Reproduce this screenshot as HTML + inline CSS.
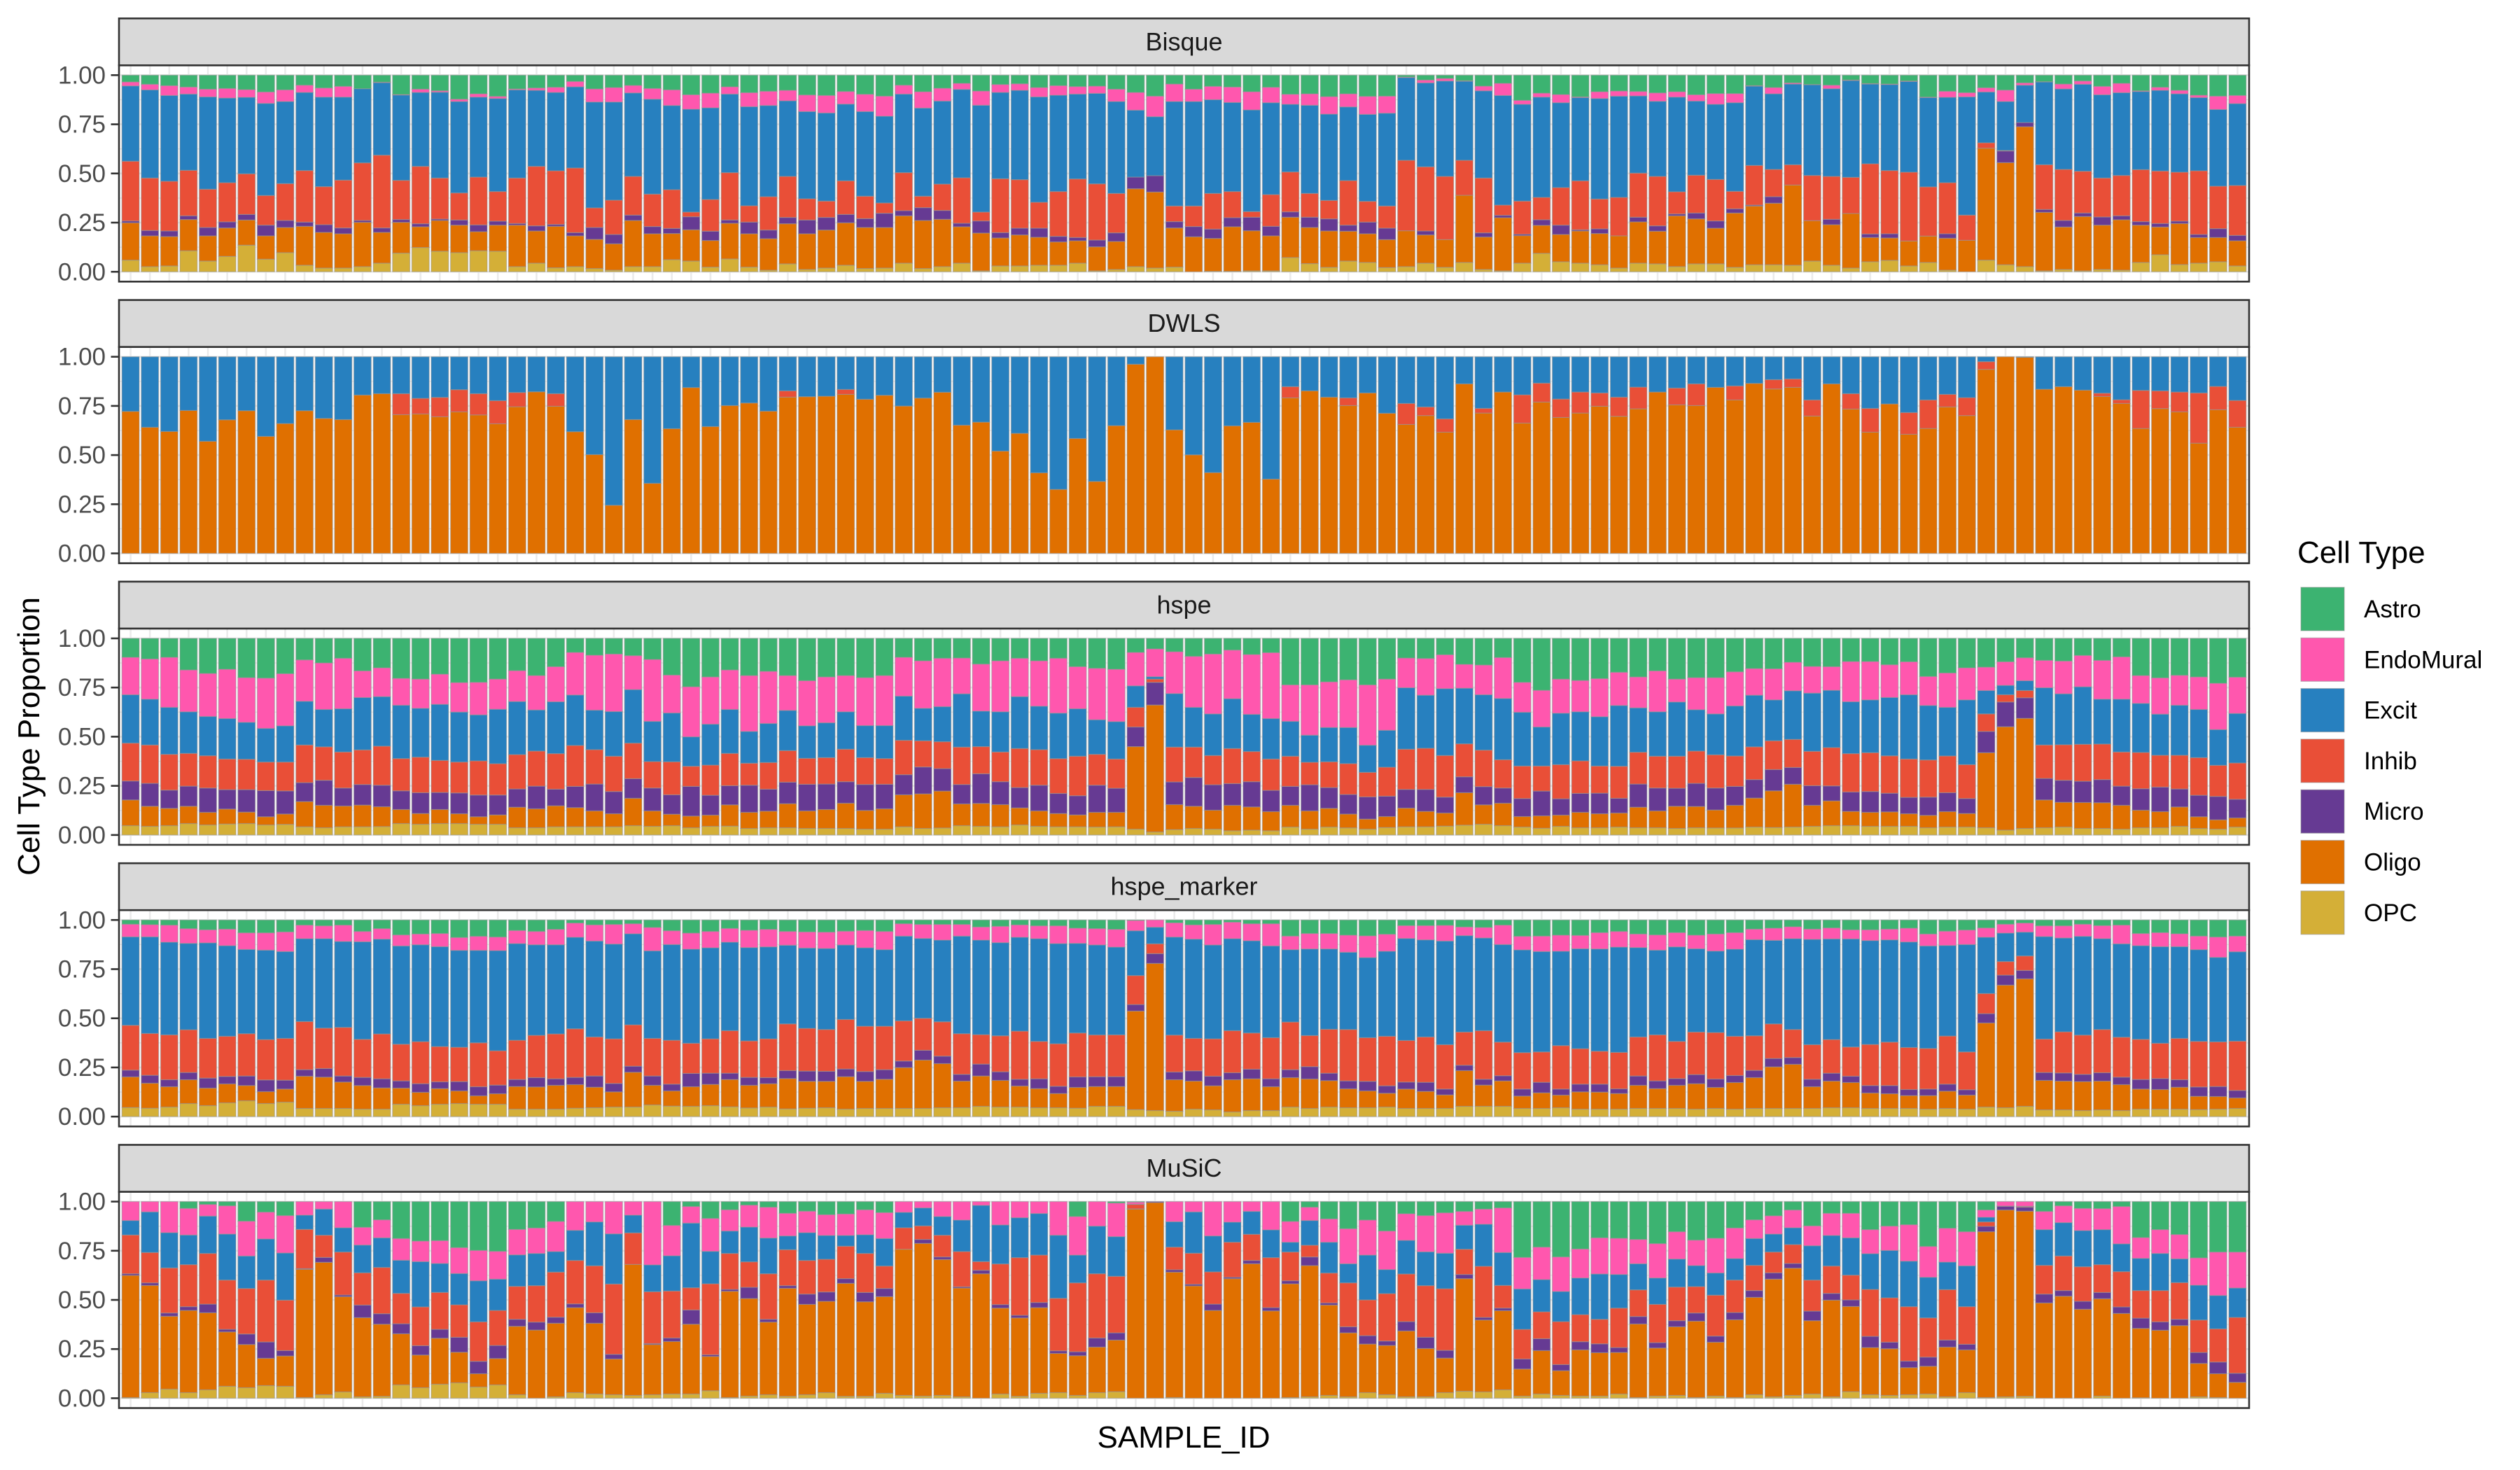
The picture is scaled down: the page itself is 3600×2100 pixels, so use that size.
<!DOCTYPE html>
<html>
<head>
<meta charset="utf-8">
<style>
  html,body{margin:0;padding:0;background:#fff;}
  svg{display:block;font-family:"Liberation Sans",Arial,sans-serif;}
</style>
</head>
<body>
<svg id="chart" width="3600" height="2100" viewBox="0 0 3600 2100" xmlns="http://www.w3.org/2000/svg">
  <rect x="0" y="0" width="3600" height="2100" fill="#ffffff"/>
  <text x="1691" y="2068" text-anchor="middle" font-size="44" fill="#000">SAMPLE_ID</text>
  <text x="0" y="0" transform="translate(56,1052) rotate(-90)" text-anchor="middle" font-size="44" fill="#000">Cell Type Proportion</text>
  <g id="panels"></g>
  <g id="legend">
    <text x="3282" y="804" font-size="44" fill="#000">Cell Type</text>
  </g>
</svg>
<script>
const categories = ["Astro","EndoMural","Excit","Inhib","Micro","Oligo","OPC"];
const colors = ["#3CB371","#FF57AE","#2780BF","#E94F37","#663A93","#E07000","#D4AF37"];
const methods = ["Bisque","DWLS","hspe","hspe_marker","MuSiC"];
const yTicks = [0,0.25,0.5,0.75,1];
const yTickLabels = ["0.00","0.25","0.50","0.75","1.00"];

// rows: [Astro, EndoMural, Excit, Inhib, Micro, Oligo, OPC] (relative amounts, normalised per bar)
const bisque = [
[29,17,323,256,8,160,50],[39,24,378,225,23,132,22],[45,42,368,213,24,126,25],[51,30,327,195,16,134,90],[60,33,396,164,36,108,46],
[57,41,363,168,26,122,66],[62,33,328,174,24,108,114],[72,49,395,127,46,100,54],[63,50,352,158,30,108,82],[43,31,335,221,18,167,28],
[55,39,384,163,33,153,16],[48,46,356,205,25,147,16],[58,0,318,247,8,190,22],[30,2,311,312,19,132,37],[83,2,366,168,12,132,80],
[60,14,317,246,13,89,104],[67,6,368,176,6,132,88],[103,10,392,116,22,118,82],[80,14,343,205,29,82,90],[91,9,399,127,17,112,88],
[59,4,378,195,7,178,22],[55,10,326,255,22,138,37],[52,22,336,230,8,178,17],[27,23,348,277,14,132,22],[59,56,454,84,51,125,14],
[53,62,421,147,40,113,7],[44,32,358,166,23,198,22],[57,46,407,139,31,141,22],[63,67,361,166,22,112,52],[84,62,441,20,56,134,46],
[77,63,393,136,40,114,20],[50,31,337,203,14,153,55],[75,60,425,70,50,143,20],[69,61,391,143,37,135,7],[65,45,324,176,27,172,34],
[85,71,374,91,59,153,10],[87,75,378,70,54,163,16],[70,54,329,144,36,182,28],[82,74,363,96,38,176,14],[90,86,372,44,61,174,16],
[43,38,337,163,22,203,37],[71,70,378,49,55,206,14],[56,55,356,113,38,203,22],[35,26,379,195,15,156,37],[68,61,458,38,52,162,4],
[40,34,370,231,23,120,25],[37,28,383,208,29,133,25],[53,40,452,111,39,120,28],[45,41,413,192,24,100,28],[49,32,364,251,14,96,37],
[47,31,388,241,29,103,4],[60,53,394,169,37,120,10],[74,76,287,0,50,334,22],[90,88,253,0,70,326,16],[38,75,448,67,27,168,20],
[60,53,448,88,44,150,0],[48,57,402,153,40,141,2],[51,66,382,112,39,191,2],[71,78,436,24,58,172,4],[52,66,394,136,41,150,4],
[82,43,290,171,23,173,61],[80,49,378,102,44,155,35],[92,75,370,79,52,156,19],[80,56,316,191,26,128,46],[91,77,373,89,50,123,40],
[90,73,398,95,49,120,18],[8,2,355,302,0,154,22],[21,12,360,275,17,121,37],[14,11,409,271,0,119,19],[24,2,339,150,0,288,40],
[47,20,374,235,18,139,10],[35,52,470,44,10,228,4],[108,17,415,142,6,118,37],[77,17,430,96,24,120,79],[83,35,364,161,40,117,43],
[93,3,357,210,5,138,37],[71,29,431,128,20,134,30],[68,22,434,165,0,138,16],[70,19,331,189,20,177,37],[76,36,322,212,23,140,34],
[71,23,406,95,8,218,22],[84,27,318,162,25,193,34],[79,46,322,178,31,153,34],[79,39,380,75,18,233,19],[45,2,340,170,4,252,30],
[53,27,324,117,28,264,30],[33,5,346,87,0,344,28],[40,1,389,194,0,173,46],[43,15,376,184,23,174,28],[21,2,415,155,0,234,16],
[36,2,342,301,15,104,43],[38,2,369,271,18,96,49],[25,2,389,295,0,107,25],[94,2,383,211,0,113,40],[69,26,366,219,19,137,7],
[75,18,507,108,0,135,0],[54,18,218,23,0,480,50],[64,49,210,2,50,438,30],[33,10,160,0,18,600,22],[28,1,355,192,12,251,4],
[38,21,345,219,28,182,10],[25,14,373,179,15,233,4],[48,36,357,167,35,190,10],[35,40,355,173,17,216,7],[67,3,335,223,15,160,40],
[52,13,346,225,15,119,73],[65,15,336,210,10,176,31],[86,10,314,273,13,110,37],[90,57,329,182,38,104,43],[87,35,351,214,23,108,25]
];

// DWLS rows: [Excit, Inhib, Oligo]
const dwls = [
[234,0,608],[302,0,540],[320,0,522],[230,0,612],[362,0,480],[270,0,572],[231,0,611],[341,0,501],[286,0,556],[231,0,611],
[264,0,578],[269,0,573],[164,0,678],[158,0,684],[158,90,594],[178,67,597],[174,83,585],[141,95,606],[158,91,593],[188,99,555],
[153,61,628],[150,0,692],[158,54,630],[321,0,521],[419,0,423],[636,0,206],[269,0,573],[542,0,300],[308,0,534],[132,0,710],
[299,0,543],[209,0,633],[198,0,644],[233,0,609],[146,27,669],[171,0,671],[169,0,673],[140,21,681],[182,0,660],[165,0,677],
[211,0,631],[177,0,665],[152,0,690],[293,0,549],[280,0,562],[404,0,438],[328,0,514],[497,0,345],[568,0,274],[350,0,492],
[534,0,308],[295,0,547],[32,0,810],[0,0,842],[313,0,529],[420,0,422],[496,0,346],[296,0,546],[281,0,561],[524,0,318],
[128,48,666],[146,0,696],[173,0,669],[176,33,633],[155,0,687],[242,0,600],[200,90,552],[215,37,590],[266,57,519],[116,0,726],
[221,20,601],[151,0,691],[163,121,558],[113,81,648],[181,79,582],[151,90,601],[155,57,630],[173,82,587],[130,93,619],[151,0,691],
[134,72,636],[116,93,633],[131,0,711],[125,60,657],[114,0,728],[98,40,704],[95,36,711],[185,69,588],[116,0,726],[158,66,618],
[221,102,519],[202,0,640],[239,93,510],[185,122,535],[161,54,627],[175,77,590],[21,33,788],[0,0,842],[2,0,840],[139,0,703],
[128,0,714],[143,0,699],[156,14,672],[184,16,642],[144,163,535],[146,76,620],[151,85,606],[155,215,472],[127,100,615],[187,115,540]
];

const hspe = [
[81,160,207,162,81,110,40],[88,172,196,164,98,86,37],[81,214,201,153,78,74,40],[135,179,178,140,86,74,49],[150,184,168,138,104,54,43],
[132,211,173,131,83,64,47],[168,191,158,130,96,49,49],[170,215,144,122,112,35,43],[153,226,157,125,100,45,46],[92,177,187,161,81,108,35],
[105,199,160,143,107,96,31],[85,216,185,154,77,89,35],[139,114,224,148,88,93,35],[126,123,212,167,92,85,36],[171,115,228,138,80,60,49],
[174,125,209,152,89,46,46],[153,129,240,137,73,60,49],[189,126,214,132,89,42,49],[188,139,197,146,93,32,46],[174,129,233,134,85,40,46],
[138,132,227,147,78,88,31],[159,147,176,150,97,81,31],[121,150,222,152,71,90,35],[60,182,216,175,91,82,35],[72,235,169,147,115,68,35],
[67,246,191,151,95,56,35],[74,145,229,152,84,117,40],[90,265,172,113,98,66,37],[157,162,209,141,83,49,40],[207,214,126,86,127,50,31],
[165,202,175,129,85,48,37],[135,169,188,138,82,91,38],[159,239,136,94,116,69,28],[141,223,167,114,94,71,31],[159,149,172,135,92,103,31],
[181,193,139,111,114,75,28],[165,196,149,113,109,81,28],[159,155,160,139,92,108,28],[168,205,137,115,111,80,25],[159,214,141,110,105,87,25],
[81,166,189,147,86,137,35],[96,203,139,112,115,148,28],[85,207,150,115,96,158,30],[84,153,228,160,83,93,40],[110,201,152,116,127,98,37],
[96,218,172,127,98,95,35],[85,164,222,167,87,73,43],[96,194,186,152,110,66,37],[85,235,195,149,86,57,35],[121,180,203,169,82,51,35],
[128,220,148,132,116,63,34],[132,224,160,125,103,62,35],[60,143,92,84,84,353,25],[45,119,10,14,97,543,13],[57,179,229,149,97,107,23],
[77,218,170,130,123,95,28],[67,256,178,125,109,81,25],[50,208,213,150,93,109,18],[69,256,159,129,108,99,21],[61,282,173,134,91,82,18],
[199,156,149,129,81,93,34],[199,215,116,96,112,78,25],[186,195,147,110,89,80,34],[180,207,157,134,85,60,31],[199,258,116,105,95,43,25],
[174,219,158,124,87,47,32],[84,127,263,172,80,80,35],[86,157,227,176,94,66,35],[70,145,286,178,68,56,38],[111,102,238,141,68,139,42],
[114,127,237,156,78,83,46],[82,175,262,121,65,96,40],[188,128,230,139,77,45,34],[222,157,167,107,106,53,29],[174,146,220,146,70,48,37],
[180,134,210,139,81,66,31],[172,163,211,116,88,60,31],[145,142,260,137,63,60,34],[165,132,190,136,99,88,31],[139,175,190,136,98,72,31],
[174,98,232,137,77,95,28],[168,137,177,138,99,91,31],[168,155,175,142,94,77,30],[143,146,214,130,81,97,30],[129,114,221,140,79,124,34],
[130,133,175,123,91,157,32],[102,122,208,120,72,183,34],[120,114,249,147,84,90,37],[121,101,245,164,64,106,40],[99,172,222,164,83,61,40],
[99,164,226,166,89,60,37],[113,140,250,160,80,62,37],[100,141,275,164,70,54,37],[163,124,233,159,78,53,31],[148,147,208,157,81,66,34],
[126,137,277,145,64,58,34],[123,100,100,75,91,321,31],[100,101,40,31,106,442,21],[83,98,42,31,88,471,28],[94,117,245,143,92,119,31],
[97,140,218,152,94,106,34],[73,134,246,158,91,111,28],[94,166,192,152,99,110,28],[79,181,226,146,82,102,25],[159,119,210,155,92,75,31],
[169,155,176,136,105,69,31],[158,128,214,144,77,83,37],[165,139,206,161,92,50,28],[192,198,153,133,100,40,25],[166,155,212,155,80,39,34]
];

const hspeMarker = [
[18,54,379,192,29,131,39],[20,52,414,179,34,107,36],[22,73,397,192,30,87,41],[37,63,370,183,31,102,56],[42,56,409,170,43,75,47],
[39,71,388,172,32,81,59],[55,71,361,181,41,65,68],[55,74,383,173,50,51,56],[51,84,372,179,38,56,62],[22,58,355,206,28,138,35],
[25,55,383,173,37,134,35],[22,70,368,208,26,113,35],[49,44,418,163,35,101,32],[37,45,406,192,39,91,32],[64,47,421,157,31,69,53],
[60,46,415,180,37,57,47],[58,56,428,151,29,67,53],[75,55,415,147,40,54,56],[70,60,396,188,39,36,53],[73,58,429,147,37,45,53],
[45,56,414,168,30,97,32],[49,57,388,181,40,95,32],[40,66,382,192,28,102,32],[13,61,392,208,31,101,36],[21,69,411,167,48,88,38],
[19,84,406,191,36,65,41],[16,43,390,177,26,149,41],[32,100,375,161,40,84,50],[46,59,410,188,29,65,45],[56,69,403,129,57,84,44],
[49,70,390,147,48,91,47],[36,59,379,182,27,117,42],[44,74,400,156,34,97,37],[40,75,394,166,26,100,41],[49,59,337,200,34,130,33],
[51,69,344,183,44,115,36],[52,70,347,179,43,113,38],[48,59,319,212,33,139,32],[45,74,336,194,42,116,35],[49,78,328,186,41,125,35],
[16,53,363,172,28,175,35],[19,60,342,137,42,207,35],[19,67,350,147,32,189,38],[19,50,418,174,29,114,38],[30,56,405,126,51,130,44],
[27,70,399,154,37,114,41],[21,53,402,206,29,90,41],[25,55,440,160,42,82,38],[25,76,429,182,31,61,38],[35,65,384,188,45,89,36],
[37,70,386,179,42,85,44],[40,76,376,179,42,85,44],[2,44,192,124,28,422,30],[0,31,71,42,42,630,26],[12,61,420,158,33,135,23],
[21,61,425,139,44,120,32],[19,88,402,160,41,103,29],[9,71,394,180,30,138,20],[16,73,395,155,41,136,26],[16,95,393,176,34,102,26],
[69,58,310,204,34,126,41],[58,66,371,133,53,126,35],[58,66,344,188,32,113,41],[65,73,331,220,34,81,38],[68,93,343,187,41,72,38],
[61,73,364,212,32,59,41],[24,55,437,178,30,83,35],[24,61,416,194,39,73,35],[23,67,444,190,25,58,35],[30,37,413,142,23,153,44],
[32,45,397,208,25,91,44],[22,83,418,144,22,109,44],[70,58,440,156,30,53,35],[69,66,430,130,45,67,35],[65,69,404,186,26,54,38],
[66,57,428,152,33,74,32],[54,70,438,141,34,73,32],[49,67,451,156,20,67,32],[60,58,383,167,40,99,35],[64,65,363,197,33,85,35],
[54,61,405,159,29,99,35],[65,58,357,182,39,109,32],[60,73,349,199,36,90,35],[54,71,373,168,30,114,32],[39,45,412,148,31,132,35],
[35,52,358,148,36,178,35],[29,51,389,120,29,189,35],[39,44,451,148,32,93,35],[34,47,431,144,34,114,38],[42,39,463,125,27,108,38],
[42,46,445,176,32,66,35],[39,46,438,186,35,63,35],[35,59,452,180,26,55,35],[60,51,439,174,28,58,32],[48,61,388,206,30,74,35],
[43,62,460,162,23,60,32],[34,40,241,86,40,360,41],[18,38,122,58,43,525,38],[13,39,102,62,36,546,44],[25,46,439,143,34,126,29],
[25,52,402,176,35,123,29],[18,52,423,168,31,124,26],[24,56,389,185,36,123,29],[22,80,400,171,32,111,26],[58,52,401,172,41,86,32],
[54,60,414,151,47,84,32],[59,55,393,177,32,94,32],[69,58,393,195,40,57,30],[73,87,362,191,43,54,32],[69,67,383,211,32,45,35]
];

const music = [
[0,81,62,166,7,523,3],[0,44,174,130,11,459,24],[0,133,151,193,14,312,39],[29,114,127,180,16,352,24],[12,50,160,217,37,330,36],
[18,121,197,211,11,233,51],[84,149,139,195,45,185,45],[45,115,176,265,70,117,54],[60,160,202,216,23,130,51],[0,58,61,168,3,549,3],
[0,32,112,95,21,567,15],[0,112,104,184,7,408,27],[110,76,119,138,54,339,6],[78,77,127,198,45,309,8],[158,93,142,130,43,219,57],
[169,88,194,166,40,140,45],[167,98,124,158,38,197,60],[197,111,134,139,64,131,66],[209,130,176,169,53,57,48],[213,119,134,150,56,113,57],
[119,109,135,141,30,293,15],[113,109,138,156,34,292,0],[85,129,88,193,26,315,6],[0,123,129,186,16,364,24],[0,87,188,201,45,303,18],
[0,138,215,301,20,153,15],[0,58,76,135,0,561,12],[0,271,115,222,4,215,15],[102,130,151,201,15,225,18],[21,71,277,95,61,299,18],
[72,141,139,304,7,147,32],[35,91,96,154,8,455,3],[15,94,149,109,48,418,9],[24,132,153,195,12,311,15],[50,97,59,154,11,463,8],
[41,92,119,144,44,387,15],[56,89,102,140,40,391,24],[53,92,46,139,20,484,8],[35,107,80,167,40,405,8],[47,111,118,96,35,414,21],
[0,46,66,92,0,626,12],[0,27,77,58,17,654,9],[0,64,80,93,11,582,12],[0,79,135,151,5,466,6],[0,16,241,37,15,533,0],
[0,100,167,174,15,368,18],[0,69,171,247,11,336,8],[0,51,178,203,22,367,21],[0,144,270,225,11,168,24],[64,165,119,295,17,170,12],
[0,105,204,275,39,195,24],[6,144,170,242,31,221,28],[2,9,1,19,1,810,0],[0,0,0,0,4,838,0],[0,86,109,97,10,537,3],
[0,44,177,133,7,481,0],[0,147,154,138,27,376,0],[0,88,86,150,6,512,0],[0,42,98,112,14,576,0],[0,121,119,214,14,374,0],
[85,89,42,123,13,487,3],[24,57,106,50,37,562,6],[74,100,132,128,9,387,12],[116,150,82,188,26,274,6],[79,150,192,153,36,208,24],
[126,165,103,203,19,211,15],[52,114,144,204,40,282,6],[60,155,145,221,48,207,6],[48,173,152,264,33,148,24],[42,59,103,108,18,482,30],
[32,65,180,219,11,308,27],[27,191,141,97,11,339,36],[239,135,173,127,43,116,9],[195,139,138,115,51,186,18],[237,148,129,184,26,106,12],
[203,124,157,116,35,198,9],[155,155,194,105,38,186,9],[157,155,144,169,21,178,18],[162,104,112,114,32,315,3],[180,147,113,164,23,206,9],
[129,117,120,144,26,294,12],[165,109,90,113,35,327,3],[155,147,94,173,26,228,9],[113,131,92,139,31,333,3],[78,80,115,108,29,417,15],
[61,78,77,89,27,504,6],[36,76,72,81,20,545,12],[104,85,147,133,41,314,18],[50,95,131,117,29,414,6],[50,105,160,106,28,365,28],
[120,103,153,201,48,202,15],[105,104,203,190,28,200,12],[99,156,195,233,28,116,15],[192,132,174,168,39,119,18],[114,145,118,216,30,213,6],
[129,146,175,161,24,183,24],[36,31,20,19,23,710,3],[0,19,0,1,16,800,6],[0,20,1,3,17,793,8],[42,78,153,123,38,408,0],
[18,72,143,148,24,437,0],[29,95,155,148,34,381,0],[30,90,150,119,27,417,9],[21,160,119,151,28,363,0],[154,89,138,118,44,297,2],
[120,102,159,134,36,291,0],[141,104,102,157,27,311,0],[241,117,149,139,47,143,6],[216,186,143,142,50,102,3],[216,154,126,239,39,68,0]
];

const NS = "http://www.w3.org/2000/svg";
const panelData = [bisque, dwls.map(r => [0,0,r[0],r[1],0,r[2],0]), hspe, hspeMarker, music];

const plotL = 170, plotR = 3213;
const panelTop0 = 93.3, panelStep = 402.3, panelH = 309, expand = 14.05, stripH = 67;
const nBars = bisque.length;
const pitch = (plotR - plotL) / (nBars + 0.2);
function xCenter(i){ return plotL + (0.6 + i) * pitch; }
function yScale(p, v){ const top = panelTop0 + panelStep * p + expand; return top + (1 - v) * (panelH - 2 * expand); }

function mk(tag, attrs, parent){
  const el = document.createElementNS(NS, tag);
  for (const k in attrs) el.setAttribute(k, attrs[k]);
  parent.appendChild(el);
  return el;
}

const panelsG = document.getElementById("panels");
methods.forEach((m, p) => {
  const top = panelTop0 + panelStep * p;
  const g = mk("g", {}, panelsG);
  
  

  const bg = mk("rect", {x: plotL, y: top, width: plotR - plotL, height: panelH, fill: "#ffffff"}, g);
  
  

  [0.125, 0.375, 0.625, 0.875].forEach(v => {
    const ln = mk("line", {x1: plotL, x2: plotR, y1: yScale(p, v), y2: yScale(p, v), stroke: "#EBEBEB", "stroke-width": 1.3}, g);
    
    
  });
  yTicks.forEach(v => {
    const ln = mk("line", {x1: plotL, x2: plotR, y1: yScale(p, v), y2: yScale(p, v), stroke: "#EBEBEB", "stroke-width": 2.6}, g);
    
    
  });
  for (let i = 0; i < nBars; i++) {
    const ln = mk("line", {x1: xCenter(i), x2: xCenter(i), y1: top, y2: top + panelH, stroke: "#EBEBEB", "stroke-width": 2.6}, g);
    
    
  }

  const rows = panelData[p];
  const bw = pitch * 0.9;
  rows.forEach((row, i) => {
    const total = row.reduce((a, b) => a + b, 0);
    let cum = 0;
    for (let c = categories.length - 1; c >= 0; c--) {
      const v = row[c] / total;
      if (v <= 0) continue;
      const y1 = yScale(p, cum + v), y0 = yScale(p, cum);
      const r = mk("rect", {x: xCenter(i) - bw / 2, y: y1, width: bw, height: Math.max(0, y0 - y1),
        fill: colors[c], stroke: "rgba(150,150,150,0.55)", "stroke-width": 1.2}, g);
      
      
      cum += v;
    }
  });

  const border = mk("rect", {x: plotL, y: top, width: plotR - plotL, height: panelH, fill: "none", stroke: "#333333", "stroke-width": 2.6}, g);
  
  

  const strip = mk("rect", {x: plotL, y: top - stripH, width: plotR - plotL, height: stripH, fill: "#D9D9D9", stroke: "#333333", "stroke-width": 2.6}, g);
  
  
  const st = mk("text", {x: (plotL + plotR) / 2, y: top - stripH / 2 + 12, "text-anchor": "middle", "font-size": 36, fill: "#1A1A1A"}, g);
  st.textContent = m;
  
  

  yTicks.forEach((v, k) => {
    const tk = mk("line", {x1: plotL - 11.5, x2: plotL, y1: yScale(p, v), y2: yScale(p, v), stroke: "#333333", "stroke-width": 2.6}, g);
    
    
    const tl = mk("text", {x: plotL - 19, y: yScale(p, v) + 12, "text-anchor": "end", "font-size": 35, fill: "#4D4D4D"}, g);
    tl.textContent = yTickLabels[k];
    
    
  });
});

const legendG = document.getElementById("legend");
categories.forEach((c, k) => {
  const cy = 870 + 72.3 * k;
  const key = mk("rect", {x: 3287, y: cy - 31, width: 62, height: 62, fill: colors[k], stroke: "rgba(150,150,150,0.55)", "stroke-width": 1.2}, legendG);
  
  
  const lt = mk("text", {x: 3377, y: cy + 12, "font-size": 35, fill: "#000"}, legendG);
  lt.textContent = c;
  
  
});
</script>
</body>
</html>
